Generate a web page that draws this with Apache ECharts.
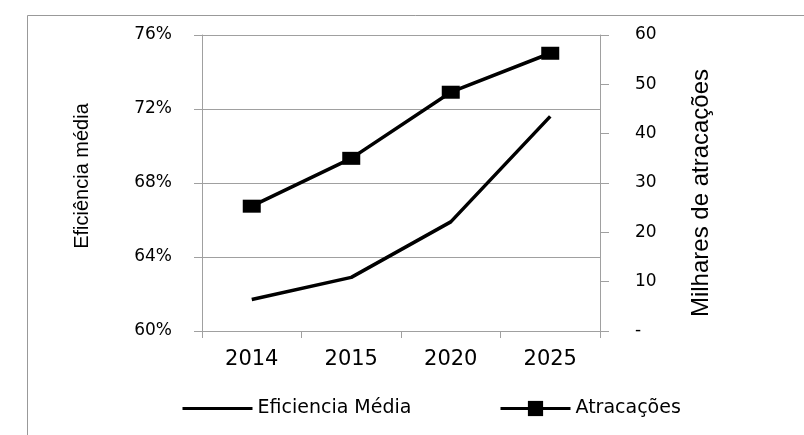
<!DOCTYPE html>
<html>
<head>
<meta charset="utf-8">
<script src="https://cdn.jsdelivr.net/npm/echarts@6/dist/echarts.min.js"></script>
<style>
html,body{margin:0;padding:0;background:#fff;}
#chart{width:804px;height:435px;}
</style>
</head>
<body>
<div id="chart"></div>
<script>
const categories = ['2014', '2015', '2020', '2025'];
const eficienciaMedia = [61.7, 62.9, 65.9, 71.6];
const atracacoes = [25.3, 35.0, 48.4, 56.3];
const leftAxisName = 'Eficiência média';
const rightAxisName = 'Milhares de atracações';
const seriesNames = ['Eficiencia Média', 'Atracações'];

const chart = echarts.init(document.getElementById('chart'), null, {renderer: 'canvas'});
const gray = '#a0a0a0';
const tickFont = 'DejaVu Sans';
const nameFont = 'Liberation Sans';

chart.setOption({
  animation: false,
  backgroundColor: '#fff',
  graphic: [
    {type: 'line', shape: {x1: 27.5, y1: 15.5, x2: 804, y2: 15.5}, style: {stroke: '#999', lineWidth: 1}},
    {type: 'line', shape: {x1: 27.5, y1: 15.5, x2: 27.5, y2: 435}, style: {stroke: '#999', lineWidth: 1}}
  ],
  grid: {left: 202, right: 204, top: 35, bottom: 104, containLabel: false},
  legend: [
    {
      data: [seriesNames[0]], left: 181, top: 399, padding: 0,
      itemWidth: 70, itemHeight: 19, itemGap: 5,
      itemStyle: {color: 'rgba(0,0,0,0)', borderWidth: 0},
      lineStyle: {width: 3, color: '#000'},
      textStyle: {fontFamily: tickFont, fontSize: 19, color: '#000'}
    },
    {
      data: [seriesNames[1]], left: 499, top: 399, padding: 0,
      itemWidth: 70, itemHeight: 19, itemGap: 5,
      lineStyle: {width: 3, color: '#000'},
      textStyle: {fontFamily: tickFont, fontSize: 19, color: '#000'}
    }
  ],
  xAxis: {
    type: 'category',
    data: categories,
    boundaryGap: true,
    axisLine: {show: true, lineStyle: {color: gray, width: 1}},
    axisTick: {show: true, alignWithLabel: false, length: 7, lineStyle: {color: gray}},
    axisLabel: {fontFamily: tickFont, fontSize: 21, color: '#000', margin: 18},
    splitLine: {show: false}
  },
  yAxis: [
    {
      type: 'value', position: 'left',
      min: 60, max: 76, interval: 4,
      name: leftAxisName, nameLocation: 'middle', nameGap: 110,
      nameTextStyle: {fontFamily: nameFont, fontSize: 20, color: '#000', padding: [0, 0, 0, 14]},
      axisLine: {show: true, lineStyle: {color: gray, width: 1}},
      axisTick: {show: true, length: 8, lineStyle: {color: gray}},
      axisLabel: {fontFamily: tickFont, fontSize: 17, color: '#000', margin: 30, formatter: '{value}%'},
      splitLine: {show: true, lineStyle: {color: gray, width: 1}}
    },
    {
      type: 'value', position: 'right',
      min: 0, max: 60, interval: 10,
      name: rightAxisName, nameLocation: 'middle', nameGap: 89,
      nameTextStyle: {fontFamily: nameFont, fontSize: 24, color: '#000', padding: [0, 20, 0, 0]},
      axisLine: {show: true, lineStyle: {color: gray, width: 1}},
      axisTick: {show: true, length: 9, lineStyle: {color: gray}},
      axisLabel: {fontFamily: tickFont, fontSize: 17, color: '#000', margin: 35,
        formatter: function (v) { return v === 0 ? '-' : String(v); }},
      splitLine: {show: false}
    }
  ],
  series: [
    {
      name: seriesNames[0], type: 'line', yAxisIndex: 0,
      data: eficienciaMedia,
      symbol: 'none',
      lineStyle: {color: '#000', width: 3.5},
      itemStyle: {color: '#000'}
    },
    {
      name: seriesNames[1], type: 'line', yAxisIndex: 1,
      data: atracacoes,
      symbol: 'rect', symbolSize: [18, 13],
      lineStyle: {color: '#000', width: 3.5},
      itemStyle: {color: '#000'}
    }
  ]
});
</script>
</body>
</html>
